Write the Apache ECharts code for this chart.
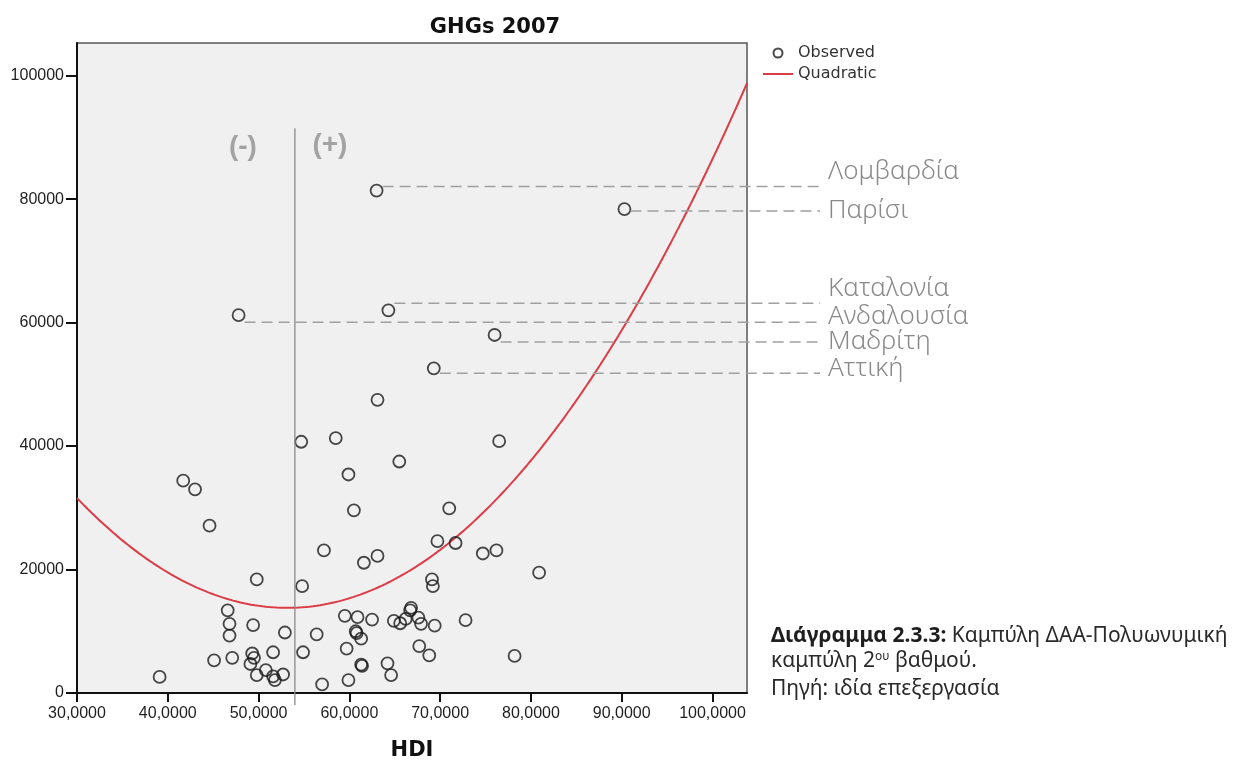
<!DOCTYPE html>
<html>
<head>
<meta charset="utf-8">
<script src="https://cdn.jsdelivr.net/npm/echarts@6/dist/echarts.min.js"></script>
<style>
  html, body { margin: 0; padding: 0; background: #ffffff; }
  #chart { width: 1235px; height: 760px; }
</style>
</head>
<body>
<div id="chart"></div>
<script>
// Regions: Human Development Index (x) vs greenhouse-gas emissions (y), 2007
const otherHDI = [
  39100, 41700, 43000, 44600, 45100, 46600, 46800, 46800, 47100, 49300,
  49400, 49500, 49100, 49800, 49800, 50800, 51600, 51600, 51800, 52700,
  52900, 54700, 54800, 54900, 56400, 57000, 57200, 58500, 59500, 59700,
  59900, 59900, 60500, 60700, 60800, 60900, 61300, 61300, 61400, 61600,
  62500, 63100, 63100, 64200, 64600, 64900, 65500, 65600, 66200, 66700,
  66800, 67600, 67700, 67900, 68800, 69100, 69200, 69400, 69700, 71000,
  71700, 72800, 74700, 76200, 76500, 78200, 80900
];
const otherGHG = [
  2600, 34400, 33000, 27100, 5300, 13400, 11200, 9300, 5700, 6400,
  11000, 5700, 4700, 18400, 2900, 3700, 6600, 2700, 2100, 3000,
  9800, 40700, 17300, 6600, 9500, 1400, 23100, 41300, 12500, 7200,
  35400, 2100, 29600, 10000, 9700, 12300, 8800, 4600, 4400, 21100,
  11900, 47500, 22200, 4800, 2900, 11700, 37500, 11300, 12000, 13400,
  13800, 12200, 7600, 11200, 6100, 18400, 17300, 10900, 24600, 29900,
  24300, 11800, 22600, 23100, 40800, 6000, 19500
];

// Regions called out by name
const namedRegions = ['Λομβαρδία', 'Παρίσι', 'Καταλονία', 'Ανδαλουσία', 'Μαδρίτη', 'Αττική'];
const namedHDI = [63000, 90300, 64300, 47800, 76000, 69300];
const namedGHG = [81400, 78400, 62000, 61200, 58000, 52600];

// Axis ticks
const xTicks = [30000, 40000, 50000, 60000, 70000, 80000, 90000, 100000];
const yTicks = [0, 20000, 40000, 60000, 80000, 100000];

// HDI value splitting the (-) and (+) zones
const splitHDI = 54000;

// Caption
const captionBold = 'Διάγραμμα 2.3.3:';
const captionRest = ' Καμπύλη ΔΑΑ-Πολυωνυμική';
const captionLine2 = ['καμπύλη 2', 'ου', ' βαθμού.'];
const captionSource = 'Πηγή: ιδία επεξεργασία';

const X_MIN = 30000, X_MAX = 103800, Y_MIN = 0, Y_MAX = 105300;

const allHDI = otherHDI.concat(namedHDI);
const allGHG = otherGHG.concat(namedGHG);
const observed = allHDI.map((x, i) => [x, allGHG[i]]);

// Least-squares quadratic GHG = c0 + c1*h + c2*h^2 (h in thousands)
function quadraticFit(xs, ys) {
  const S = [0, 0, 0, 0, 0], T = [0, 0, 0];
  xs.forEach((xv, i) => {
    const h = xv / 1000;
    let p = 1;
    for (let k = 0; k < 5; k++) {
      S[k] += p;
      if (k < 3) T[k] += ys[i] * p;
      p *= h;
    }
  });
  const M = [
    [S[0], S[1], S[2], T[0]],
    [S[1], S[2], S[3], T[1]],
    [S[2], S[3], S[4], T[2]]
  ];
  for (let c = 0; c < 3; c++) {
    let piv = c;
    for (let r = c + 1; r < 3; r++) if (Math.abs(M[r][c]) > Math.abs(M[piv][c])) piv = r;
    [M[c], M[piv]] = [M[piv], M[c]];
    for (let r = 0; r < 3; r++) {
      if (r === c) continue;
      const f = M[r][c] / M[c][c];
      for (let k = c; k < 4; k++) M[r][k] -= f * M[c][k];
    }
  }
  const coef = [M[0][3] / M[0][0], M[1][3] / M[1][1], M[2][3] / M[2][2]];
  return xv => { const h = xv / 1000; return coef[0] + coef[1] * h + coef[2] * h * h; };
}
const fitted = quadraticFit(allHDI, allGHG);
const curve = [];
for (let xv = X_MIN; xv <= X_MAX; xv += 200) curve.push([xv, fitted(xv)]);

const chart = echarts.init(document.getElementById('chart'), null, { renderer: 'canvas' });

const tickFont = { fontFamily: '"Liberation Sans", Arial, sans-serif', fontSize: 16, color: '#1e1e1e' };
const fitColor = '#dc3c46';

chart.setOption({
  animation: false,
  backgroundColor: '#ffffff',
  title: {
    text: 'GHGs 2007',
    left: 490,
    top: 12,
    textAlign: 'center',
    textStyle: { fontFamily: '"DejaVu Sans", sans-serif', fontWeight: 'bold', fontSize: 21, color: '#111' }
  },
  legend: {
    orient: 'vertical',
    left: 757,
    top: 40,
    itemWidth: 30,
    itemHeight: 9,
    itemGap: 5,
    selectedMode: false,
    textStyle: { fontFamily: '"DejaVu Sans", sans-serif', fontSize: 16, color: '#333' },
    data: ['Observed', 'Quadratic']
  },
  grid: {
    left: 77, top: 43, width: 670, height: 650,
    outerBoundsMode: 'none',
    show: true,
    backgroundColor: '#f0f0f0',
    borderColor: '#555',
    borderWidth: 1.5
  },
  xAxis: {
    type: 'value',
    min: X_MIN, max: X_MAX,
    name: 'HDI',
    nameLocation: 'middle',
    nameGap: 47,
    nameTextStyle: { fontFamily: '"DejaVu Sans", sans-serif', fontWeight: 'bold', fontSize: 21, color: '#111' },
    axisLine: { show: true, onZero: false, lineStyle: { color: '#111', width: 2 } },
    axisTick: { show: true, length: 9, customValues: xTicks, lineStyle: { color: '#111', width: 2 } },
    axisLabel: Object.assign({
      margin: 13,
      customValues: xTicks,
      formatter: v => (v / 1000).toFixed(4).replace('.', ',')
    }, tickFont),
    splitLine: { show: false }
  },
  yAxis: {
    type: 'value',
    min: Y_MIN, max: Y_MAX,
    axisLine: { show: true, onZero: false, lineStyle: { color: '#111', width: 2 } },
    axisTick: { show: true, length: 11, customValues: yTicks, lineStyle: { color: '#111', width: 2 } },
    axisLabel: Object.assign({
      margin: 13,
      customValues: yTicks,
      formatter: v => String(v)
    }, tickFont),
    splitLine: { show: false }
  },
  series: [
    {
      name: 'Observed',
      type: 'scatter',
      data: observed,
      symbol: 'circle',
      symbolSize: 12,
      itemStyle: { color: 'rgba(0,0,0,0)', borderColor: '#1a1a1a', borderWidth: 1.8 },
      emphasis: { disabled: true },
      z: 3
    },
    {
      name: 'Quadratic',
      type: 'line',
      data: curve,
      symbol: 'none',
      showSymbol: false,
      lineStyle: { color: fitColor, width: 2 },
      itemStyle: { color: fitColor, opacity: 0 },
      emphasis: { disabled: true },
      z: 2
    }
  ]
});

// Annotations: zone divider, named-region callouts and caption
const calloutOffsets = {
  'Λομβαρδία': { line: -4, text: -15 },
  'Παρίσι': { line: 2, text: 0 },
  'Καταλονία': { line: -7, text: -15 },
  'Ανδαλουσία': { line: 7, text: -6 },
  'Μαδρίτη': { line: 7, text: 0 },
  'Αττική': { line: 5, text: -5 }
};

const toPx = (x, y) => chart.convertToPixel({ gridIndex: 0 }, [x, y]);
const gridRight = toPx(X_MAX, 0)[0];
const gridBottom = toPx(X_MIN, Y_MIN)[1];
const splitTop = toPx(splitHDI, 91500);
const graphics = [];

graphics.push({
  type: 'line', z: 10,
  shape: { x1: splitTop[0], y1: splitTop[1], x2: splitTop[0], y2: gridBottom + 12 },
  style: { stroke: '#8a8a8a', lineWidth: 1.3 }
});
const zoneFont = 'bold 28px "Liberation Sans", Arial, sans-serif';
graphics.push({
  type: 'text', z: 10, x: splitTop[0] - 52, y: splitTop[1] + 19,
  style: { text: '(-)', font: zoneFont, fill: '#a3a3a3', align: 'center', verticalAlign: 'middle' }
});
graphics.push({
  type: 'text', z: 10, x: splitTop[0] + 35, y: splitTop[1] + 17,
  style: { text: '(+)', font: zoneFont, fill: '#a3a3a3', align: 'center', verticalAlign: 'middle' }
});

namedRegions.forEach((name, i) => {
  const p = toPx(namedHDI[i], namedGHG[i]);
  const off = calloutOffsets[name];
  const ly = p[1] + off.line;
  graphics.push({
    type: 'line', z: 9,
    shape: { x1: p[0] + 6, y1: ly, x2: gridRight + 73, y2: ly },
    style: { stroke: '#a0a0a0', lineWidth: 1.5, lineDash: [11, 6] }
  });
  graphics.push({
    type: 'text', z: 10, x: gridRight + 81, y: ly + off.text,
    style: {
      text: name, fill: '#8a8a8a',
      font: '300 26px "Noto Sans", "DejaVu Sans", sans-serif',
      align: 'left', verticalAlign: 'middle'
    }
  });
});

const capFont = '"Noto Sans", "DejaVu Sans", sans-serif';
const capX = gridRight + 24;
graphics.push({
  type: 'text', z: 10, x: capX, y: gridBottom - 57,
  style: {
    text: '{b|' + captionBold + '}{n|' + captionRest + '}',
    verticalAlign: 'middle', align: 'left',
    rich: {
      b: { fontFamily: capFont, fontWeight: 'bold', fontSize: 21, fill: '#1e1e1e' },
      n: { fontFamily: capFont, fontSize: 21, fill: '#2a2a2a' }
    }
  }
});
graphics.push({
  type: 'text', z: 10, x: capX, y: gridBottom - 32,
  style: {
    text: '{n|' + captionLine2[0] + '}{s|' + captionLine2[1] + '}{n|' + captionLine2[2] + '}',
    verticalAlign: 'middle', align: 'left',
    rich: {
      n: { fontFamily: capFont, fontSize: 21, fill: '#2a2a2a' },
      s: { fontFamily: capFont, fontSize: 12, fill: '#2a2a2a', verticalAlign: 'top', padding: [0, 0, 9, 0] }
    }
  }
});
graphics.push({
  type: 'text', z: 10, x: capX, y: gridBottom - 4,
  style: {
    text: captionSource, verticalAlign: 'middle', align: 'left',
    font: '21px ' + capFont, fill: '#2a2a2a'
  }
});

chart.setOption({ graphic: graphics });
</script>
</body>
</html>
